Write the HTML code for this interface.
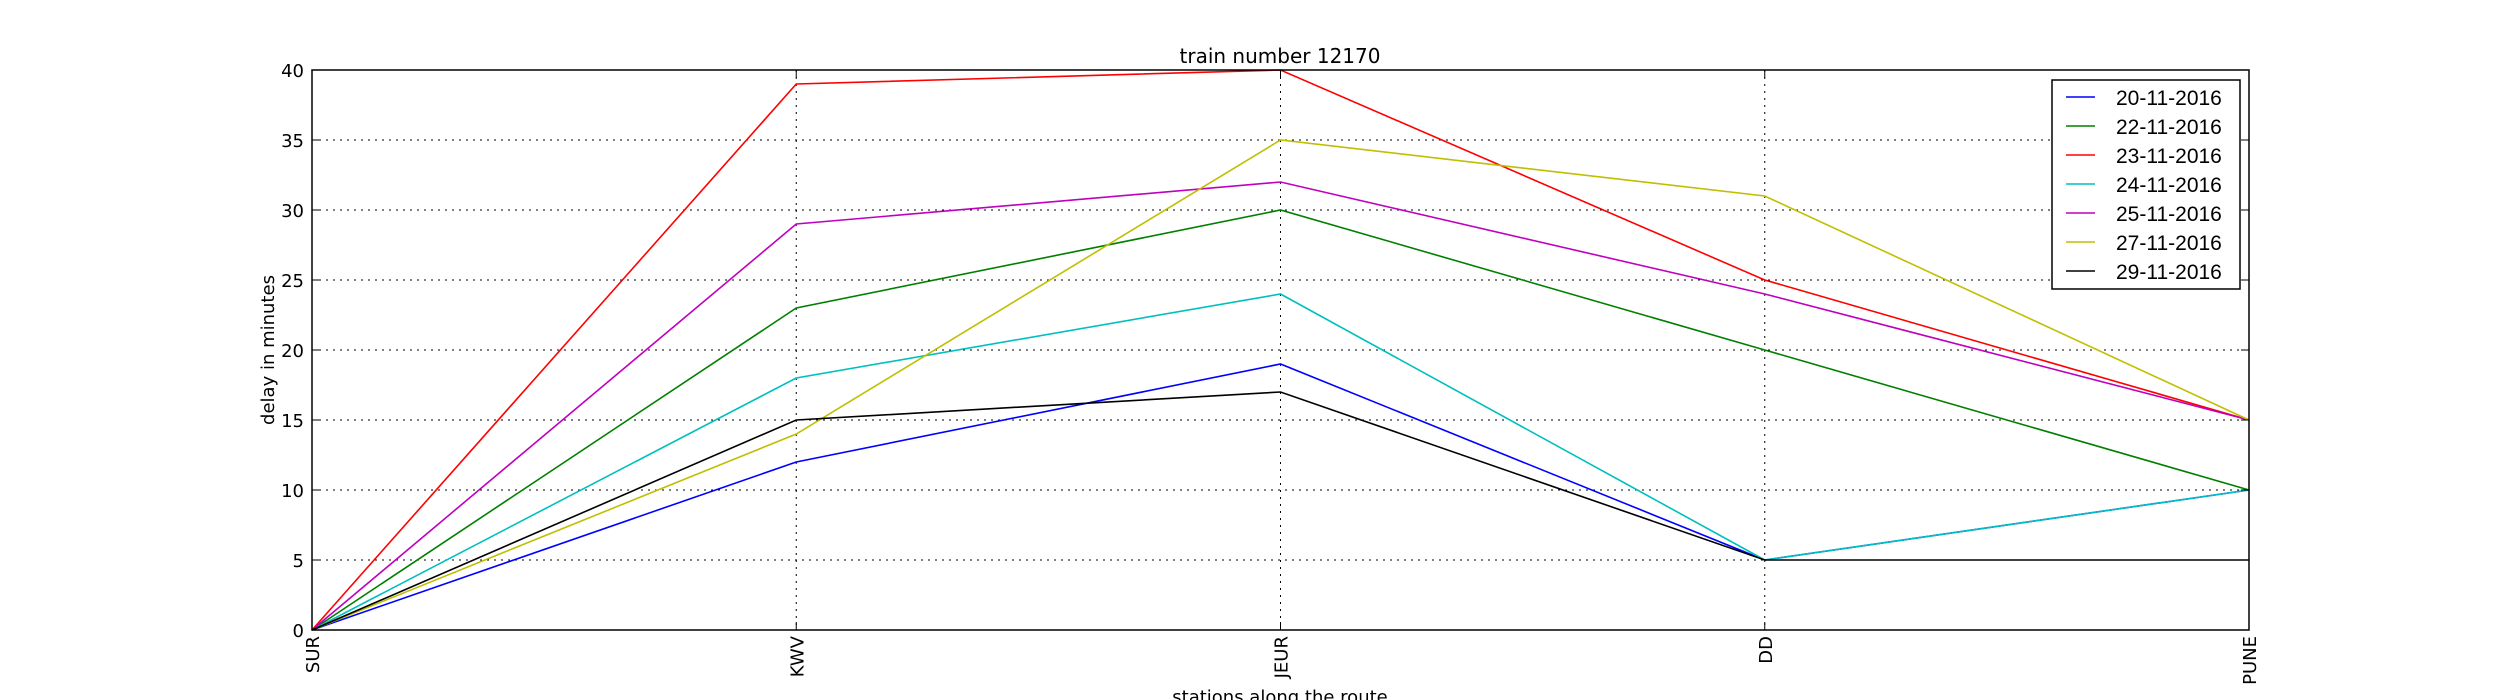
<!DOCTYPE html>
<html><head><meta charset="utf-8"><style>
html,body{margin:0;padding:0;background:#fff;}
svg{display:block;font-family:"DejaVu Sans","Liberation Sans",sans-serif;}
</style></head><body>
<svg id="chart" width="2500" height="700">
<rect width="2500" height="700" fill="#fff"/>
<text x="1280" y="63" font-size="20" text-anchor="middle">train number 12170</text>
<g id="grid"></g>
<g id="series"></g>
<rect x="312" y="70" width="1937" height="560" fill="none" stroke="#000" stroke-width="1.5"/>
<g id="ticks"></g>
<text transform="translate(274,350) rotate(-90)" font-size="18" text-anchor="middle">delay in minutes</text>
<text x="1280" y="703" font-size="18" text-anchor="middle">stations along the route</text>
<g id="legend"></g>
</svg>
<script>
const stations = ["SUR","KWV","JEUR","DD","PUNE"];
const yTicks = [0,5,10,15,20,25,30,35,40];
const seriesNames = ["20-11-2016","22-11-2016","23-11-2016","24-11-2016","25-11-2016","27-11-2016","29-11-2016"];
const s20 = [0,12,19,5,10];
const s22 = [0,23,30,20,10];
const s23 = [0,39,40,25,15];
const s24 = [0,18,24,5,10];
const s25 = [0,29,32,24,15];
const s27 = [0,14,35,31,15];
const s29 = [0,15,17,5,5];
const seriesValues = [s20,s22,s23,s24,s25,s27,s29];
const colors = ["#0000ff","#008000","#ff0000","#00bfbf","#bf00bf","#bfbf00","#000000"];

const L=312,R=2249,T=70,B=630,ymax=40;
const xs=i=>L+(R-L)*i/(stations.length-1);
const ys=v=>B-(B-T)*v/ymax;
const NS="http://www.w3.org/2000/svg";
function mk(tag,attrs,parent){const e=document.createElementNS(NS,tag);for(const k in attrs)e.setAttribute(k,attrs[k]);parent.appendChild(e);return e;}
const grid=document.getElementById('grid'),ticks=document.getElementById('ticks'),ser=document.getElementById('series'),leg=document.getElementById('legend');

yTicks.forEach(v=>{
  const y=ys(v);
  if(v>0&&v<ymax){const g=mk('line',{x1:L,x2:R,y1:y,y2:y,stroke:'#000','stroke-width':1,'stroke-dasharray':'2,5'},grid);
  
  }
  mk('line',{x1:L,x2:L+8,y1:y,y2:y,stroke:'#000'},ticks);
  mk('line',{x1:R-8,x2:R,y1:y,y2:y,stroke:'#000'},ticks);
  const t=mk('text',{x:L-8,y:y+7,'font-size':18,'text-anchor':'end'},ticks);
  t.textContent=v;
  
  
});
stations.forEach((s,i)=>{
  const x=xs(i);
  if(i>0&&i<stations.length-1){const g=mk('line',{x1:x,x2:x,y1:T,y2:B,stroke:'#000','stroke-width':1,'stroke-dasharray':'2,5'},grid);
  
  }
  mk('line',{x1:x,x2:x,y1:B-8,y2:B,stroke:'#000'},ticks);
  mk('line',{x1:x,x2:x,y1:T,y2:T+8,stroke:'#000'},ticks);
  const t=mk('text',{transform:`translate(${x+7},${B+6}) rotate(-90)`,'font-size':18,'text-anchor':'end'},ticks);
  t.textContent=s;
  
  
});
seriesValues.forEach((vals,k)=>{
  const p=mk('polyline',{points:vals.map((v,i)=>xs(i)+','+ys(v)).join(' '),fill:'none',stroke:colors[k],'stroke-width':1.6},ser);
  
  
});
const lx=2052,ly=80,lw=188,lh=209;
const box=mk('rect',{x:lx,y:ly,width:lw,height:lh,fill:'#fff',stroke:'#000','stroke-width':1.5},leg);


seriesNames.forEach((n,k)=>{
  const y=ly+17+k*29;
  mk('line',{x1:lx+14,x2:lx+43,y1:y,y2:y,stroke:colors[k],'stroke-width':1.6},leg);
  const t=mk('text',{x:lx+64,y:y+8,'font-size':21,'font-family':'Liberation Sans, sans-serif'},leg);
  t.textContent=n;
  
  
});
</script>
</body></html>
